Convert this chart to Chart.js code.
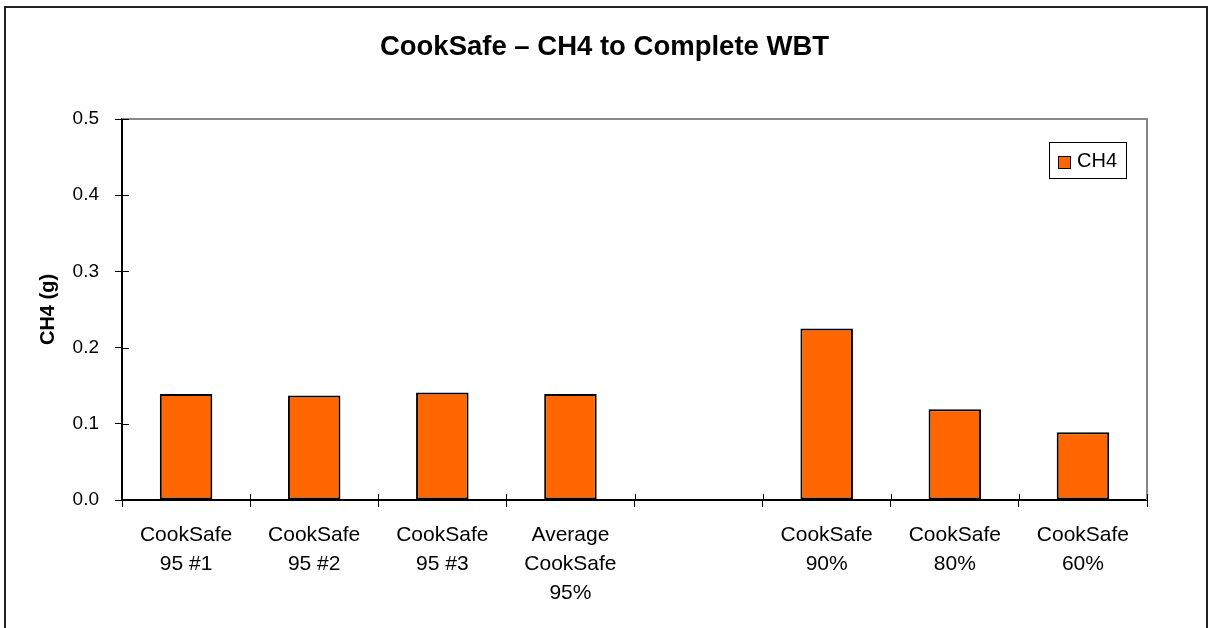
<!DOCTYPE html>
<html>
<head>
<meta charset="utf-8">
<script src="https://cdn.jsdelivr.net/npm/chart.js@4"></script>
<style>
  html, body { margin: 0; padding: 0; background: #fff; }
  #wrap { width: 1209px; height: 628px; position: relative; }
</style>
</head>
<body>
<div id="wrap"><canvas id="barChart"></canvas></div>
<script>
const chartTitle = 'CookSafe \u2013 CH4 to Complete WBT';
const categories = [
  ['CookSafe', '95 #1'],
  ['CookSafe', '95 #2'],
  ['CookSafe', '95 #3'],
  ['Average', 'CookSafe', '95%'],
  '',
  ['CookSafe', '90%'],
  ['CookSafe', '80%'],
  ['CookSafe', '60%']
];
const ch4Values = [0.139, 0.137, 0.141, 0.139, null, 0.225, 0.119, 0.089];
const yTicks = [0, 0.1, 0.2, 0.3, 0.4, 0.5];

const FONT = "'Liberation Sans', Arial, sans-serif";

// frame, title, plot border, crossing ticks and in-plot legend
const extras = {
  id: 'extras',
  beforeDraw(chart) {
    const c = chart.ctx;
    c.save();
    c.fillStyle = '#fff';
    c.fillRect(0, 0, chart.width, chart.height);
    c.restore();
  },
  afterDraw(chart) {
    const c = chart.ctx, a = chart.chartArea;
    const xs = chart.scales.x, ys = chart.scales.y;
    c.save();
    // outer frame
    c.strokeStyle = '#222';
    c.lineWidth = 2;
    c.strokeRect(5, 7, chart.width - 7, chart.height + 10);
    // title, centred on the whole picture
    c.fillStyle = '#000';
    c.font = 'bold 27.5px ' + FONT;
    c.textAlign = 'center';
    c.textBaseline = 'middle';
    c.fillText(chartTitle, chart.width / 2, 47);
    c.textAlign = 'left';
    // plot area top/right border
    c.strokeStyle = '#888';
    c.lineWidth = 2;
    c.beginPath();
    c.moveTo(a.left, a.top);
    c.lineTo(a.right, a.top);
    c.lineTo(a.right, a.bottom);
    c.stroke();
    // tick marks poking into the plot
    c.strokeStyle = '#000';
    c.lineWidth = 1;
    c.beginPath();
    yTicks.forEach(v => {
      const y = Math.round(ys.getPixelForValue(v)) + 0.5;
      c.moveTo(a.left, y);
      c.lineTo(a.left + 7, y);
    });
    for (let i = 0; i <= categories.length; i++) {
      const x = Math.round(xs.getPixelForTick(0) + (i - 0.5) * (xs.width / categories.length)) + 0.5;
      c.moveTo(x, a.bottom);
      c.lineTo(x, a.bottom - 6);
    }
    c.stroke();
    // legend
    const ds = chart.data.datasets[0];
    const bx = a.right - 98, by = a.top + 23, bw = 77, bh = 36;
    c.fillStyle = '#fff';
    c.fillRect(bx, by, bw, bh);
    c.strokeStyle = '#000';
    c.lineWidth = 1;
    c.strokeRect(bx + 0.5, by + 0.5, bw, bh);
    c.fillStyle = ds.backgroundColor;
    c.fillRect(bx + 9, by + 14, 12, 12);
    c.strokeRect(bx + 9.5, by + 14.5, 12, 12);
    c.fillStyle = '#000';
    c.font = '20px ' + FONT;
    c.textBaseline = 'middle';
    c.fillText(ds.label, bx + 28, by + 19);
    c.restore();
  }
};

new Chart(document.getElementById('barChart').getContext('2d'), {
  type: 'bar',
  data: {
    labels: categories,
    datasets: [{
      label: 'CH4',
      data: ch4Values,
      backgroundColor: '#FF6600',
      borderColor: '#000',
      borderWidth: 2,
      borderSkipped: false,
      categoryPercentage: 1,
      barPercentage: 0.41
    }]
  },
  options: {
    responsive: true,
    maintainAspectRatio: false,
    animation: false,
    layout: { padding: { left: 36, right: 62, top: 119, bottom: 0 } },
    plugins: {
      legend: { display: false },
      tooltip: { enabled: false },
      title: { display: false }
    },
    scales: {
      x: {
        grid: { display: true, drawOnChartArea: false, offset: true, tickLength: 7, color: '#000', lineWidth: 1 },
        border: { display: true, color: '#000', width: 2 },
        ticks: {
          color: '#000',
          maxRotation: 0,
          autoSkip: false,
          padding: 14,
          font: { family: FONT, size: 21, lineHeight: 1.37 }
        },
        afterFit(scale) { scale.height = 128; }
      },
      y: {
        min: 0,
        max: 0.5,
        afterBuildTicks(scale) { scale.ticks = yTicks.map(v => ({ value: v })); },
        grid: { display: true, drawOnChartArea: false, tickLength: 7, color: '#000', lineWidth: 1 },
        border: { display: true, color: '#000', width: 2 },
        ticks: {
          color: '#000',
          padding: 16,
          font: { family: FONT, size: 19 },
          callback: v => Number(v).toFixed(1)
        },
        title: {
          display: true,
          text: 'CH4 (g)',
          color: '#000',
          font: { family: FONT, size: 20, weight: 'bold' },
          padding: { top: 0, bottom: 12 }
        },
        afterFit(scale) { scale.width = 86; }
      }
    }
  },
  plugins: [extras]
});
</script>
</body>
</html>
